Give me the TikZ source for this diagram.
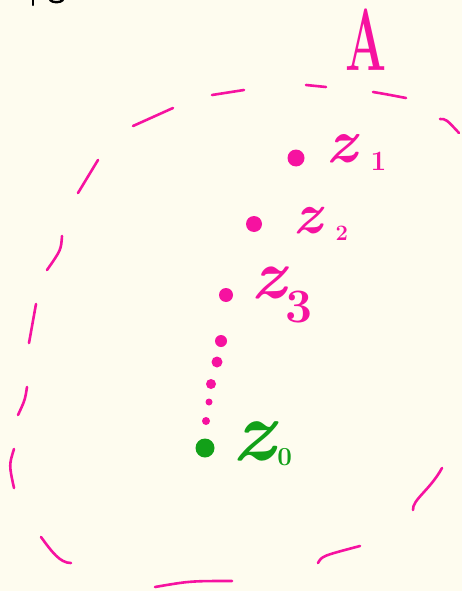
\documentclass[tikz,border=0pt]{standalone}
\usepackage{graphicx}
\definecolor{bg}{RGB}{254,252,239}
\definecolor{mag}{RGB}{246,18,160}
\definecolor{grn}{RGB}{18,160,24}
\newcommand{\zlab}[5]{{\fontsize{#1}{#1}\selectfont\bfseries\itshape z}\hspace{#4pt}\raisebox{-#5pt}{\fontsize{#2}{#2}\selectfont\bfseries #3}}
\begin{document}
\begin{tikzpicture}[x=1pt,y=-1pt,
  dsh/.style={draw=mag,line width=2.6pt,line cap=round,line join=round},
  pt/.style={ellipse,fill=mag,inner sep=0pt},
  lab/.style={inner sep=0pt,anchor=base west,text=mag}]
\fill[bg] (0,0) rectangle (462,591);
\useasboundingbox (0,0) rectangle (462,591);
% black fragments at top edge
\draw[black,line width=2.4pt,line cap=round] (33,0) -- (33,5);
\draw[black,line width=2.4pt,line cap=round] (50,0) .. controls (53,3) and (60,3) .. (63,0);
% dashed closed curve
\draw[dsh] (212,95) -- (244,90);
\draw[dsh] (306,85) -- (326,87);
\draw[dsh] (373,92) .. controls (385,94) .. (406,98);
\draw[dsh] (440,119) .. controls (446,119) .. (459,133);
\draw[dsh] (133,126) -- (173,108);
\draw[dsh] (98,160) -- (78,193);
\draw[dsh] (62,236) .. controls (61,250) .. (47,270);
\draw[dsh] (36,304) -- (29,343);
\draw[dsh] (27,387) .. controls (25,400) .. (18,415);
\draw[dsh] (14,449) .. controls (9,465) .. (14,488);
\draw[dsh] (41,537) .. controls (52,552) and (60,563) .. (71,563);
\draw[dsh] (155,587) .. controls (190,581) .. (232,581);
\draw[dsh] (318,563) .. controls (322,556) .. (360,546);
\draw[dsh] (413,510) .. controls (412,500) and (430,490) .. (442,468);
% label A
\node[lab,anchor=base] (A) at (366,71) {\fontsize{88}{88}\selectfont\bfseries\scalebox{0.55}[1]{A}};
% points
\node[circle,fill=mag,inner sep=0pt,minimum size=17pt] (p1) at (296,158) {};
\node[circle,fill=mag,inner sep=0pt,minimum size=16pt] (p2) at (254,224) {};
\node[circle,fill=mag,inner sep=0pt,minimum size=14pt] (p3) at (226,295) {};
\node[circle,fill=mag,inner sep=0pt,minimum size=12pt] (d1) at (221,341) {};
\node[circle,fill=mag,inner sep=0pt,minimum size=11pt] (d2) at (217,362) {};
\node[circle,fill=mag,inner sep=0pt,minimum size=10pt] (d3) at (211,384) {};
\node[circle,fill=mag,inner sep=0pt,minimum size=7pt] (d4) at (209,402) {};
\node[circle,fill=mag,inner sep=0pt,minimum size=8pt] (d5) at (206,421) {};
\node[circle,fill=grn,inner sep=0pt,minimum size=19pt] (p0) at (205,448) {};
% labels
\node[lab] (l1) at (326,162) {\zlab{62}{28}{1}{14}{8}};
\node[lab] (l2) at (293,233) {\zlab{58}{22}{2}{14}{7}};
\node[lab] (l3) at (251,298) {\zlab{70}{48}{3}{0}{24}};
\node[lab,text=grn] (l0) at (232,460) {\zlab{86}{26}{0}{3}{5}};
\end{tikzpicture}
\end{document}
